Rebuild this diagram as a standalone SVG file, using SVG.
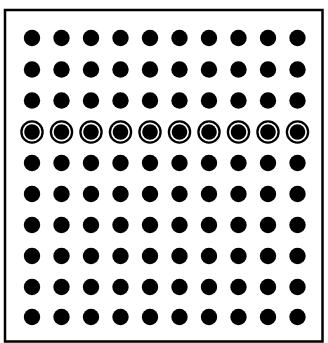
<svg xmlns="http://www.w3.org/2000/svg" width="328" height="343" viewBox="0 0 328 343">
<defs>
<style>
.d{fill:#000}
.r{fill:none;stroke:#000;stroke-width:2.3}
</style>
<circle id="dot" r="8.2" class="d"/>
<g id="ring"><circle r="10.6" class="r"/><circle r="7.8" class="d"/></g>
</defs>
<rect x="0" y="0" width="328" height="343" fill="#fff"/>
<rect x="5" y="10" width="317.5" height="331.5" fill="none" stroke="#000" stroke-width="2.5"/>
<g id="grid">
<g id="row1" transform="translate(0,38)">
<use href="#dot" x="32"/><use href="#dot" x="61.5"/><use href="#dot" x="91"/><use href="#dot" x="120.5"/><use href="#dot" x="150"/><use href="#dot" x="179.5"/><use href="#dot" x="209"/><use href="#dot" x="238.5"/><use href="#dot" x="268"/><use href="#dot" x="297.5"/>
</g>
<g id="row2" transform="translate(0,69.5)">
<use href="#dot" x="32"/><use href="#dot" x="61.5"/><use href="#dot" x="91"/><use href="#dot" x="120.5"/><use href="#dot" x="150"/><use href="#dot" x="179.5"/><use href="#dot" x="209"/><use href="#dot" x="238.5"/><use href="#dot" x="268"/><use href="#dot" x="297.5"/>
</g>
<g id="row3" transform="translate(0,100.5)">
<use href="#dot" x="32"/><use href="#dot" x="61.5"/><use href="#dot" x="91"/><use href="#dot" x="120.5"/><use href="#dot" x="150"/><use href="#dot" x="179.5"/><use href="#dot" x="209"/><use href="#dot" x="238.5"/><use href="#dot" x="268"/><use href="#dot" x="297.5"/>
</g>
<g id="row4" transform="translate(0,132)">
<use href="#ring" x="32"/><use href="#ring" x="61.5"/><use href="#ring" x="91"/><use href="#ring" x="120.5"/><use href="#ring" x="150"/><use href="#ring" x="179.5"/><use href="#ring" x="209"/><use href="#ring" x="238.5"/><use href="#ring" x="268"/><use href="#ring" x="297.5"/>
</g>
<g id="row5" transform="translate(0,163)">
<use href="#dot" x="32"/><use href="#dot" x="61.5"/><use href="#dot" x="91"/><use href="#dot" x="120.5"/><use href="#dot" x="150"/><use href="#dot" x="179.5"/><use href="#dot" x="209"/><use href="#dot" x="238.5"/><use href="#dot" x="268"/><use href="#dot" x="297.5"/>
</g>
<g id="row6" transform="translate(0,194)">
<use href="#dot" x="32"/><use href="#dot" x="61.5"/><use href="#dot" x="91"/><use href="#dot" x="120.5"/><use href="#dot" x="150"/><use href="#dot" x="179.5"/><use href="#dot" x="209"/><use href="#dot" x="238.5"/><use href="#dot" x="268"/><use href="#dot" x="297.5"/>
</g>
<g id="row7" transform="translate(0,225)">
<use href="#dot" x="32"/><use href="#dot" x="61.5"/><use href="#dot" x="91"/><use href="#dot" x="120.5"/><use href="#dot" x="150"/><use href="#dot" x="179.5"/><use href="#dot" x="209"/><use href="#dot" x="238.5"/><use href="#dot" x="268"/><use href="#dot" x="297.5"/>
</g>
<g id="row8" transform="translate(0,256)">
<use href="#dot" x="32"/><use href="#dot" x="61.5"/><use href="#dot" x="91"/><use href="#dot" x="120.5"/><use href="#dot" x="150"/><use href="#dot" x="179.5"/><use href="#dot" x="209"/><use href="#dot" x="238.5"/><use href="#dot" x="268"/><use href="#dot" x="297.5"/>
</g>
<g id="row9" transform="translate(0,287)">
<use href="#dot" x="32"/><use href="#dot" x="61.5"/><use href="#dot" x="91"/><use href="#dot" x="120.5"/><use href="#dot" x="150"/><use href="#dot" x="179.5"/><use href="#dot" x="209"/><use href="#dot" x="238.5"/><use href="#dot" x="268"/><use href="#dot" x="297.5"/>
</g>
<g id="row10" transform="translate(0,317)">
<use href="#dot" x="32"/><use href="#dot" x="61.5"/><use href="#dot" x="91"/><use href="#dot" x="120.5"/><use href="#dot" x="150"/><use href="#dot" x="179.5"/><use href="#dot" x="209"/><use href="#dot" x="238.5"/><use href="#dot" x="268"/><use href="#dot" x="297.5"/>
</g>
</g>
</svg>
